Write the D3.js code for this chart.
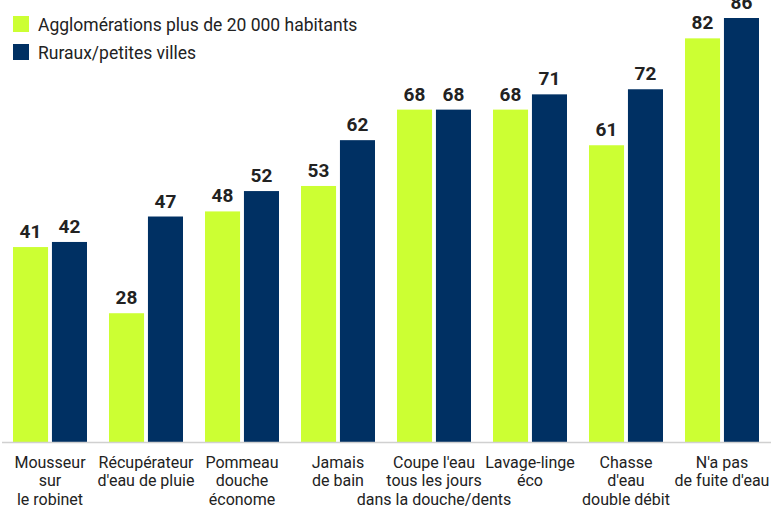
<!DOCTYPE html>
<meta charset="utf-8">
<style>
body { margin: 0; background: #fff; }
text { font-family: Roboto, "Liberation Sans", sans-serif; fill: #222; }
.val { font-weight: 700; font-size: 19px; text-anchor: middle; }
.cat { font-size: 16px; text-anchor: middle; }
.leg { font-size: 17.5px; }
</style>
<body>
<script src="https://cdn.jsdelivr.net/npm/d3@7"></script>
<script>
// data
var categories = [
  ["Mousseur", "sur", "le robinet"],
  ["Récupérateur", "d'eau de pluie"],
  ["Pommeau", "douche", "économe"],
  ["Jamais", "de bain"],
  ["Coupe l'eau", "tous les jours", "dans la douche/dents"],
  ["Lavage-linge", "éco"],
  ["Chasse", "d'eau", "double débit"],
  ["N'a pas", "de fuite d'eau"]
];
var seriesNames = ["Agglomérations plus de 20 000 habitants", "Ruraux/petites villes"];
var urbain = [41, 28, 48, 53, 68, 68, 61, 82];
var rural = [42, 47, 52, 62, 68, 71, 72, 86];
var colors = ["#ccff33", "#003063"];

var width = 771, height = 506;
var baseY = 442;

var svg = d3.select("body").append("svg")
    .attr("width", width)
    .attr("height", height);

var x = d3.scaleBand()
    .domain(d3.range(categories.length))
    .range([2, 770]);

var x1 = d3.scaleBand()
    .domain([0, 1])
    .range([11, 85])
    .paddingInner(0.1);

// axis doesn't start quite at zero in the original
var y = d3.scaleLinear()
    .domain([2.7, 86])
    .range([baseY, 18]);

var rows = urbain.map(function(d, i) { return [d, rural[i]]; });

var groups = svg.selectAll(".grp")
    .data(rows)
  .enter().append("g")
    .attr("class", "grp")
    .attr("transform", function(d, i) { return "translate(" + x(i) + ",0)"; });

groups.selectAll("rect")
    .data(function(d) { return d; })
  .enter().append("rect")
    .attr("x", function(d, j) { return x1(j); })
    .attr("width", x1.bandwidth())
    .attr("y", function(d) { return y(d); })
    .attr("height", function(d) { return baseY - y(d); })
    .attr("fill", function(d, j) { return colors[j]; });

groups.selectAll(".val")
    .data(function(d) { return d; })
  .enter().append("text")
    .attr("class", "val")
    .attr("x", function(d, j) { return x1(j) + x1.bandwidth() / 2; })
    .attr("y", function(d) { return y(d) - 9; })
    .text(function(d) { return d; });

// baseline
svg.append("line")
    .attr("x1", 2).attr("x2", width)
    .attr("y1", baseY + 0.5).attr("y2", baseY + 0.5)
    .attr("stroke", "#d0d0d0")
    .attr("stroke-width", 1.5);

// category labels
svg.selectAll(".cat")
    .data(categories)
  .enter().append("text")
    .attr("class", "cat")
    .attr("x", function(d, i) { return x(i) + x.bandwidth() / 2; })
    .attr("y", 467.5)
    .selectAll("tspan")
    .data(function(d) { return d; })
  .enter().append("tspan")
    .attr("x", function() { return this.parentNode.getAttribute("x"); })
    .attr("dy", function(d, k) { return k ? 18.8 : 0; })
    .text(function(d) { return d; });

// legend
var leg = svg.selectAll(".legitem")
    .data(seriesNames)
  .enter().append("g")
    .attr("transform", function(d, i) { return "translate(13," + (16 + i * 28) + ")"; });

leg.append("rect")
    .attr("width", 16).attr("height", 16)
    .attr("fill", function(d, i) { return colors[i]; });

leg.append("text")
    .attr("class", "leg")
    .attr("x", 25)
    .attr("y", 14.5)
    .text(function(d) { return d; });
</script>
</body>
